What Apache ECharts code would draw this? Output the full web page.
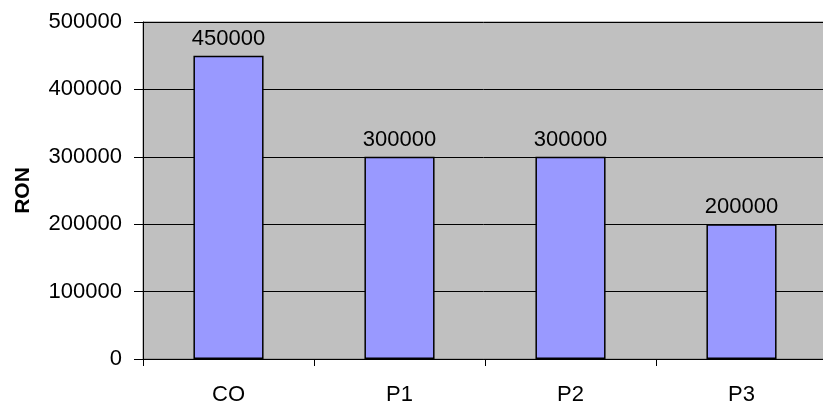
<!DOCTYPE html>
<html>
<head>
<meta charset="utf-8">
<script src="https://cdn.jsdelivr.net/npm/echarts@6/dist/echarts.min.js"></script>
<style>
  html, body { margin: 0; padding: 0; background: #ffffff; }
  #chart { width: 823px; height: 409px; }
</style>
</head>
<body>
<div id="chart"></div>
<script>
// Budget per item, in RON
const categories = ['CO', 'P1', 'P2', 'P3'];
const values = [450000, 300000, 300000, 200000];
const yTicks = [0, 100000, 200000, 300000, 400000, 500000];

const FONT = 'Liberation Sans, Arial, sans-serif';
const FONT_SIZE = 22;

const chart = echarts.init(document.getElementById('chart'), null, { renderer: 'canvas' });
chart.setOption({
  animation: false,
  grid: {
    left: 143, right: -4, top: 22, bottom: 50,
    containLabel: false,
    outerBoundsMode: 'none',
    show: true, backgroundColor: '#c0c0c0', borderColor: '#808080', borderWidth: 1
  },
  xAxis: {
    type: 'category',
    data: categories,
    axisLine: { lineStyle: { color: '#000', width: 1 } },
    axisTick: { show: true, length: 7, alignWithLabel: false, lineStyle: { color: '#000' } },
    axisLabel: { color: '#000', fontFamily: FONT, fontSize: FONT_SIZE, margin: 25 }
  },
  yAxis: {
    type: 'value',
    min: yTicks[0],
    max: yTicks[yTicks.length - 1],
    interval: 100000,
    name: 'RON',
    nameLocation: 'middle',
    nameGap: 109,
    nameRotate: 90,
    nameTextStyle: { color: '#000', fontFamily: FONT, fontSize: 21, fontWeight: 'bold' },
    axisLine: { show: true, lineStyle: { color: '#000', width: 1 } },
    axisTick: { show: true, length: 9, inside: false, lineStyle: { color: '#000' } },
    axisLabel: {
      color: '#000', fontFamily: FONT, fontSize: FONT_SIZE, margin: 21,
      formatter: (v) => String(v)
    },
    splitLine: { show: true, lineStyle: { color: '#000', width: 1 } }
  },
  series: [{
    type: 'bar',
    data: values,
    barWidth: '41%',
    itemStyle: { color: '#9999ff', borderColor: '#000', borderWidth: 1.5 },
    label: {
      show: true, position: 'top', distance: 6,
      color: '#000', fontFamily: FONT, fontSize: FONT_SIZE
    }
  }]
});
</script>
</body>
</html>
